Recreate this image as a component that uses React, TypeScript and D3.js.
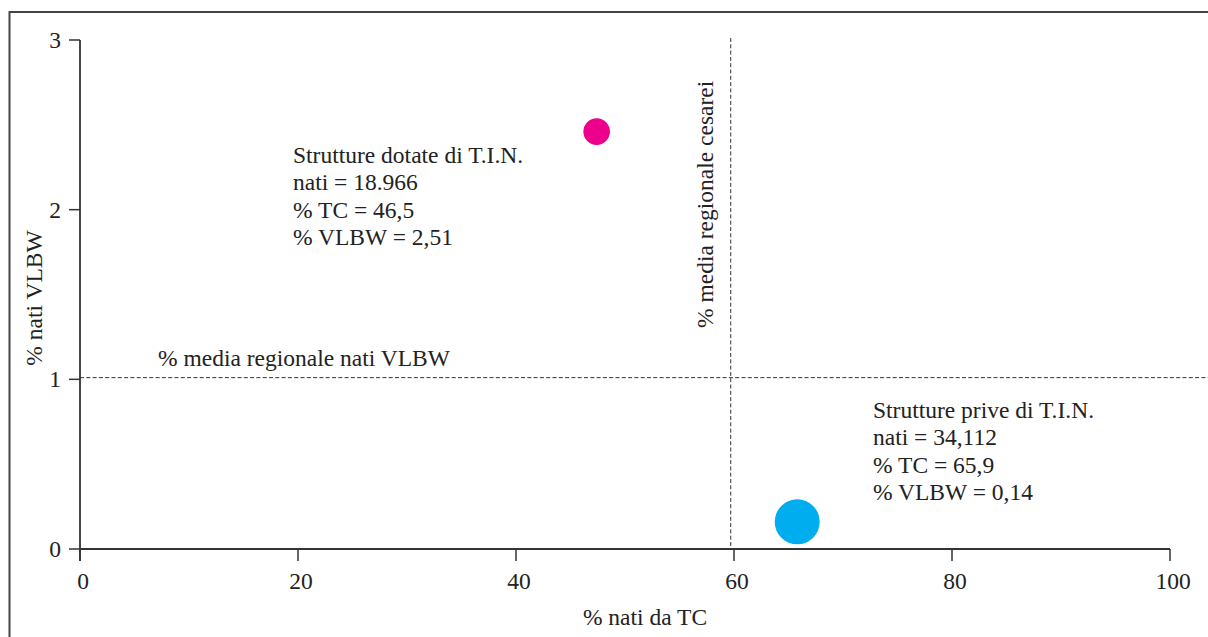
import React from "react";
import * as d3 from "d3";

const xTicks = [0, 20, 40, 60, 80, 100];
const yTicks = [0, 1, 2, 3];
const groups = ["Strutture dotate di T.I.N.", "Strutture prive di T.I.N."];
const tcValues = [47.4, 65.8];
const vlbwValues = [2.46, 0.16];
const nati = [18966, 34112];
const colors = ["#EC008C", "#00AEEF"];
const labelLines = [
  ["Strutture dotate di T.I.N.", "nati = 18.966", "% TC = 46,5", "% VLBW = 2,51"],
  ["Strutture prive di T.I.N.", "nati = 34,112", "% TC = 65,9", "% VLBW = 0,14"],
];
const meanTC = 59.7;
const meanVLBW = 1.01;

const W = 1208;
const H = 637;
const FONT = "'Liberation Serif', 'Times New Roman', serif";
const INK = "#333";

export default function App() {
  const x = d3.scaleLinear().domain([0, 100]).range([80, 1170]);
  const y = d3.scaleLinear().domain([0, 3]).range([549, 40]);
  const r = d3.scaleLinear().domain([18966, 34112]).range([13.3, 22.5]);
  const fs = 23.5;

  const labelPos = [
    { x: 293, y: 163 },
    { x: 873, y: 418 },
  ];

  return (
    <svg
      width={W}
      height={H}
      style={{ position: "absolute", left: 0, top: 0, background: "#fff" }}
      fontFamily={FONT}
    >
      <rect x={9.5} y={12} width={W + 20} height={H + 20} fill="none" stroke="#444" strokeWidth={2} />

      <line x1={x(meanTC)} x2={x(meanTC)} y1={y(3) - 2} y2={y(0)} stroke={INK} strokeWidth={1} strokeDasharray="4,2.3" />
      <line x1={x(0)} x2={W} y1={y(meanVLBW)} y2={y(meanVLBW)} stroke={INK} strokeWidth={1} strokeDasharray="4,2.3" />

      <line x1={x(0)} x2={x(100)} y1={y(0)} y2={y(0)} stroke={INK} strokeWidth={1.8} />
      <line x1={x(0)} x2={x(0)} y1={y(0) + 12} y2={y(3)} stroke={INK} strokeWidth={1.8} />
      {xTicks.map((t) => (
        <g key={"x" + t}>
          <line x1={x(t)} x2={x(t)} y1={y(0)} y2={y(0) + 12} stroke={INK} strokeWidth={1.5} />
          <text x={x(t) + 3} y={589} fontSize={fs} textAnchor="middle" fill="#222">
            {t}
          </text>
        </g>
      ))}
      {yTicks.map((t) => (
        <g key={"y" + t}>
          <line x1={x(0) - 11} x2={x(0)} y1={y(t)} y2={y(t)} stroke={INK} strokeWidth={1.5} />
          <text x={61} y={y(t) + 8} fontSize={fs} textAnchor="end" fill="#222">
            {t}
          </text>
        </g>
      ))}

      <text x={645} y={625} fontSize={fs} textAnchor="middle" fill="#222">
        % nati da TC
      </text>
      <text transform={`translate(42,298) rotate(-90)`} fontSize={fs} textAnchor="middle" fill="#222">
        % nati VLBW
      </text>

      <text x={158} y={366} fontSize={fs} fill="#222">
        % media regionale nati VLBW
      </text>
      <text transform={`translate(713,328) rotate(-90)`} fontSize={fs} fill="#222">
        % media regionale cesarei
      </text>

      {groups.map((g, i) => (
        <circle key={g} cx={x(tcValues[i])} cy={y(vlbwValues[i])} r={r(nati[i])} fill={colors[i]} />
      ))}

      {labelLines.map((lines, i) => (
        <text key={"l" + i} x={labelPos[i].x} y={labelPos[i].y} fontSize={fs} fill="#222">
          {lines.map((l, j) => (
            <tspan key={j} x={labelPos[i].x} dy={j === 0 ? 0 : 27.3}>
              {l}
            </tspan>
          ))}
        </text>
      ))}
    </svg>
  );
}
